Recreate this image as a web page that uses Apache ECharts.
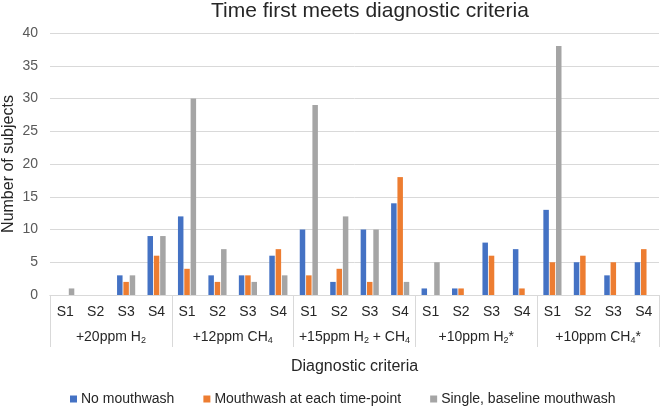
<!DOCTYPE html>
<html>
<head>
<meta charset="utf-8">
<script src="https://cdn.jsdelivr.net/npm/echarts@6/dist/echarts.min.js"></script>
<style>html,body{margin:0;padding:0;background:#fff}#c{width:660px;height:409px}</style>
</head>
<body>
<div id="c"></div>
<script>
const stages = ['S1','S2','S3','S4'];
const groupLabels = ['+20ppm H{s|2}', '+12ppm CH{s|4}', '+15ppm H{s|2} + CH{s|4}', '+10ppm H{s|2}*', '+10ppm CH{s|4}*'];
const seriesNames = ['No mouthwash', 'Mouthwash at each time-point', 'Single, baseline mouthwash'];
const noMouthwash =     [0,0,3,9,  12,3,3,6,  10,2,10,14,  1,1,8,7,  13,5,3,5];
const mouthwashEach =   [0,0,2,6,  4,2,3,7,   3,4,2,18,    0,1,6,1,  5,6,5,7];
const singleBaseline =  [1,0,3,9,  30,7,2,3,  29,12,10,2,  5,0,0,0,  38,0,0,0];
const yTicks = {min: 0, max: 40, interval: 5};

const categories = [];
groupLabels.forEach(() => stages.forEach(s => categories.push(s)));
const colors = ['#4472C4', '#ED7D31', '#A5A5A5'];
const values = [noMouthwash, mouthwashEach, singleBaseline];
const FF = 'Liberation Sans, Arial, sans-serif';

const chart = echarts.init(document.getElementById('c'), null, {renderer: 'canvas'});
chart.setOption({
  animation: false,
  title: {
    text: 'Time first meets diagnostic criteria',
    left: 211, top: 1, padding: 0,
    textStyle: {fontFamily: FF, fontSize: 21, fontWeight: 'normal', color: '#262626'}
  },
  legend: {
    top: 392, left: 70, padding: 0,
    icon: 'rect', itemWidth: 7, itemHeight: 7, itemGap: 29,
    textStyle: {fontFamily: FF, fontSize: 14, color: '#262626', padding: [0,0,0,-1]},
    data: seriesNames
  },
  grid: {left: 50, right: 1, top: 33, bottom: 114, outerBoundsMode: 'none', containLabel: false},
  xAxis: [
    {
      type: 'category', data: categories, position: 'bottom',
      axisLine: {show: true, lineStyle: {color: '#d9d9d9'}},
      axisTick: {show: false},
      axisLabel: {interval: 0, margin: 10, fontFamily: FF, fontSize: 14, color: '#262626'}
    },
    {
      type: 'category', data: groupLabels, position: 'bottom',
      axisLine: {show: true, lineStyle: {color: '#d9d9d9'}},
      axisTick: {show: true, length: 52, interval: 0, lineStyle: {color: '#d9d9d9'}},
      axisLabel: {
        interval: 0, margin: 34, formatter: v => v,
        fontFamily: FF, fontSize: 14, color: '#262626',
        rich: {s: {fontSize: 9, fontFamily: FF, color: '#262626', verticalAlign: 'bottom', padding: [7,0,0,0]}}
      },
      name: 'Diagnostic criteria', nameLocation: 'middle', nameGap: 64, nameMoveOverlap: false,
      nameTextStyle: {fontFamily: FF, fontSize: 16, color: '#262626'}
    }
  ],
  yAxis: {
    type: 'value', min: yTicks.min, max: yTicks.max, interval: yTicks.interval,
    axisLine: {show: false}, axisTick: {show: false},
    splitLine: {lineStyle: {color: '#d9d9d9'}},
    axisLabel: {margin: 12, fontFamily: FF, fontSize: 14, color: '#595959'},
    name: 'Number of subjects', nameLocation: 'middle', nameGap: 33, nameMoveOverlap: false,
    nameTextStyle: {fontFamily: FF, fontSize: 16, color: '#262626'}
  },
  series: seriesNames.map((n, i) => ({
    name: n, type: 'bar', xAxisIndex: 0, data: values[i],
    barWidth: 5.5, barGap: '15%',
    itemStyle: {color: colors[i]}
  }))
});
</script>
</body>
</html>
